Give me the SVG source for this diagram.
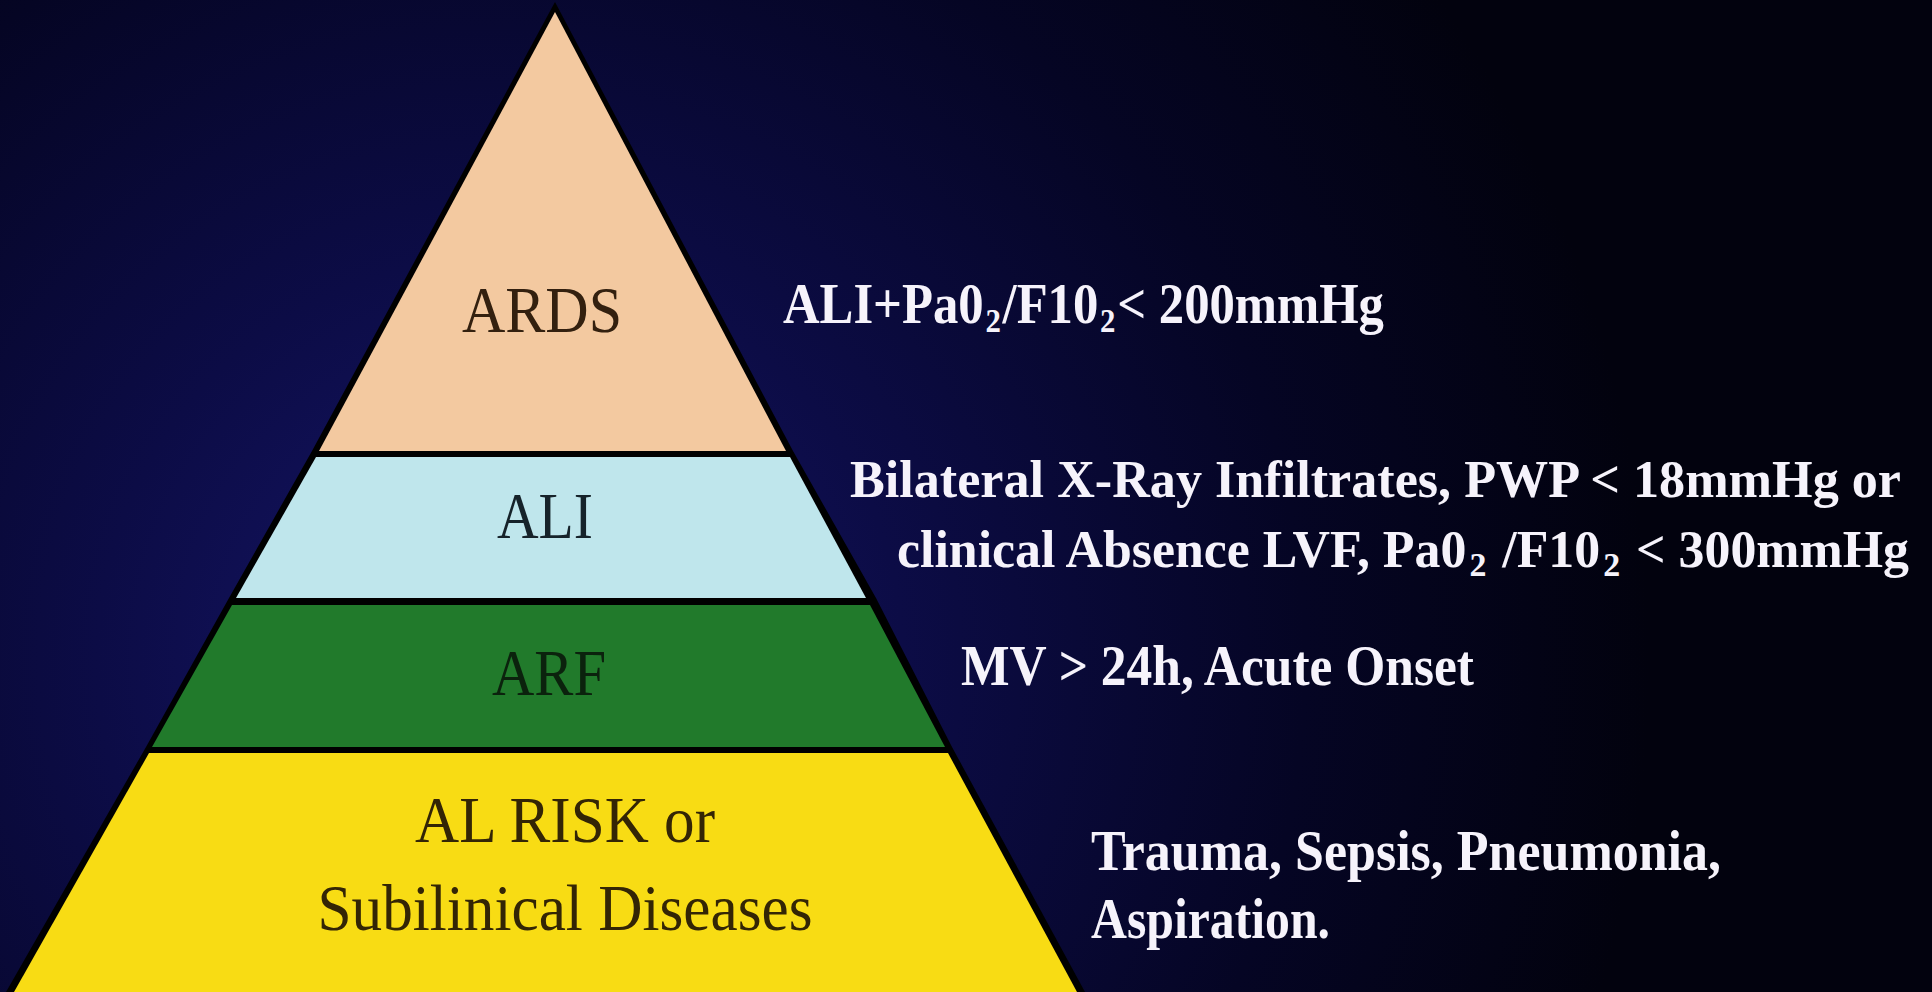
<svg xmlns="http://www.w3.org/2000/svg" width="1932" height="992" viewBox="0 0 1932 992">
<defs>
<radialGradient id="bg" cx="500" cy="660" r="1150" gradientUnits="userSpaceOnUse">
<stop offset="0" stop-color="#16166a"/>
<stop offset="0.35" stop-color="#0c0c46"/>
<stop offset="0.7" stop-color="#050524"/>
<stop offset="1" stop-color="#02020e"/>
</radialGradient>
<style>
.lbl{font-family:"Liberation Serif","Times New Roman",serif;font-size:66px;text-anchor:middle}
.note{font-family:"Liberation Serif","Times New Roman",serif;font-weight:bold;fill:#f6f3fb}
.sub{font-size:34px}
</style>
</defs>
<rect x="0" y="0" width="1932" height="992" fill="url(#bg)"/>
<polygon id="outline" points="555,2 312,451 229,598 146,747 6,992 1085,992 952,747 876,598 793,451" fill="#000"/>
<g id="ards">
<polygon points="555,12 319,451 786,451" fill="#f3c9a0"/>
<text class="lbl" x="542" y="332" fill="#33200f" textLength="160" lengthAdjust="spacingAndGlyphs">ARDS</text>
</g>
<g id="ali">
<polygon points="316,457 790,457 866,598 236,598" fill="#bfe6ec"/>
<text class="lbl" x="545" y="538" fill="#16232a" textLength="96" lengthAdjust="spacingAndGlyphs">ALI</text>
</g>
<g id="arf">
<polygon points="232,605 870,605 945,747 152,747" fill="#217a2b"/>
<text class="lbl" x="549" y="695" fill="#0b220d" textLength="114" lengthAdjust="spacingAndGlyphs">ARF</text>
</g>
<g id="risk">
<polygon points="149,753 948,753 1077,992 14,992" fill="#f8dc14"/>
<text class="lbl" x="565" y="842" fill="#332505" textLength="300" lengthAdjust="spacingAndGlyphs">AL RISK or</text>
<text class="lbl" x="565" y="930" fill="#332505" textLength="495" lengthAdjust="spacingAndGlyphs">Subilinical Diseases</text>
</g>
<g id="notes">
<text class="note" transform="translate(783,323) scale(0.905,1)" x="0" y="0" font-size="56">ALI+Pa0<tspan class="sub" dx="2" dy="9">2</tspan><tspan dx="2" dy="-9">/F10</tspan><tspan class="sub" dx="2" dy="9">2</tspan><tspan dx="2" dy="-9">&lt; 200mmHg</tspan></text>
<text class="note" x="850" y="497" font-size="52" textLength="1051" lengthAdjust="spacingAndGlyphs">Bilateral X-Ray Infiltrates, PWP &lt; 18mmHg or</text>
<text class="note" x="897" y="567" font-size="52" textLength="1012" lengthAdjust="spacingAndGlyphs">clinical Absence LVF, Pa0<tspan class="sub" dx="3" dy="9">2</tspan><tspan dx="3" dy="-9"> /F10</tspan><tspan class="sub" dx="3" dy="9">2</tspan><tspan dx="3" dy="-9"> &lt; 300mmHg</tspan></text>
<text class="note" x="961" y="685" font-size="56" textLength="513" lengthAdjust="spacingAndGlyphs">MV &gt; 24h, Acute Onset</text>
<text class="note" x="1091" y="870" font-size="56" textLength="630" lengthAdjust="spacingAndGlyphs">Trauma, Sepsis, Pneumonia,</text>
<text class="note" x="1091" y="938" font-size="56" textLength="239" lengthAdjust="spacingAndGlyphs">Aspiration.</text>
</g>
</svg>
